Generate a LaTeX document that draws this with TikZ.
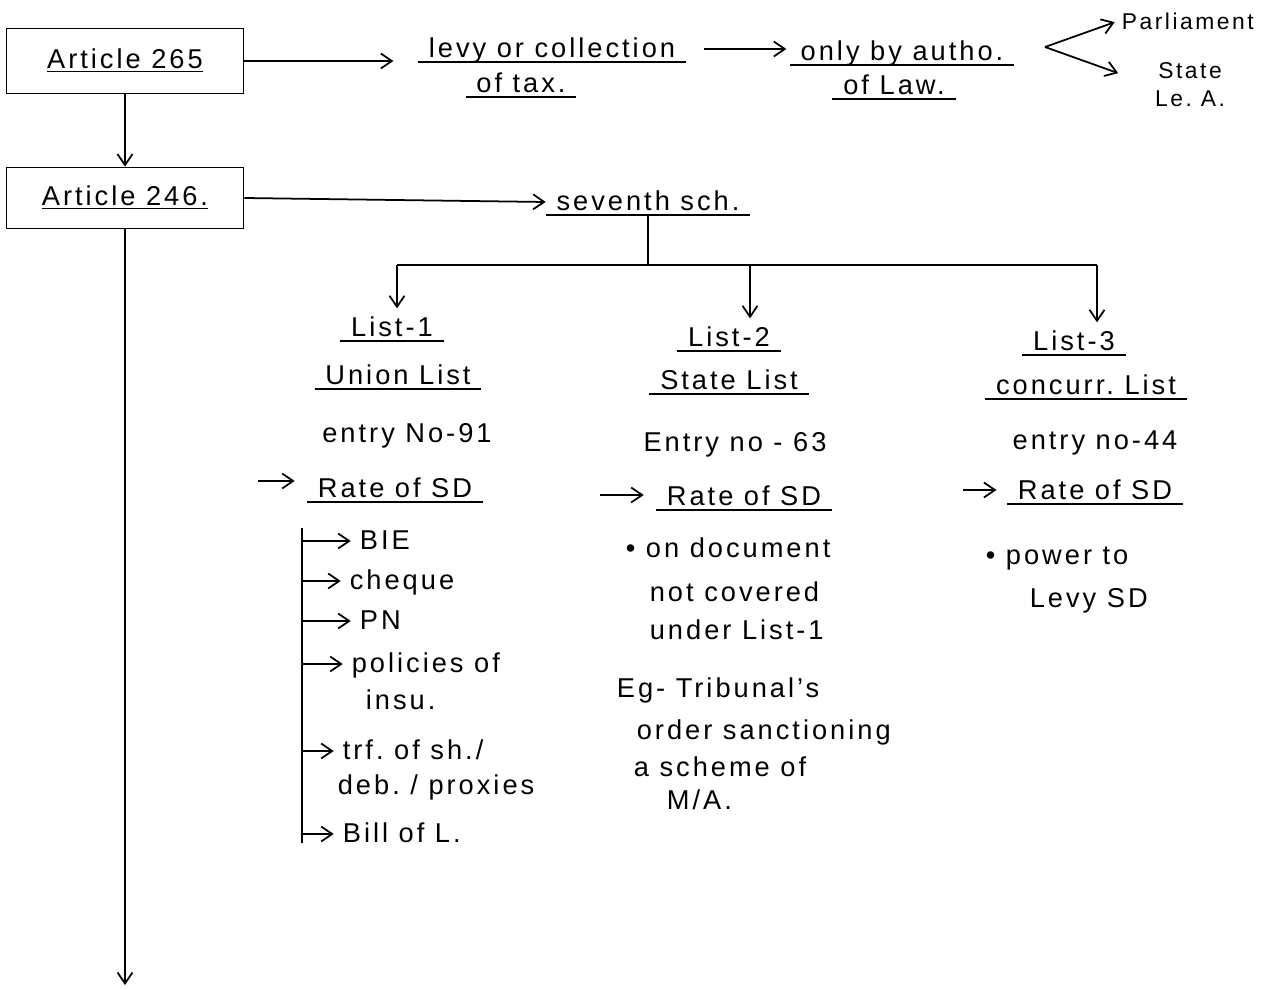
\documentclass[tikz,border=0pt]{standalone}
\usepackage{fontspec}
\setmainfont[LetterSpace=11]{Liberation Sans}
\usepackage{tikz}
\usetikzlibrary{
    positioning,
    arrows.meta
}
\newcommand{\handsize}{\fontsize{15.5}{18}\selectfont}
\newcommand{\smallhand}{\fontsize{13}{16}\selectfont}
\frenchspacing

\begin{document}
\begin{tikzpicture}[x=0.02cm, y=-0.02cm,
    box/.style={rectangle, draw, line width=1pt, minimum width=4.74cm, minimum height=1.3cm, font=\handsize},
    txt/.style={font=\handsize, inner sep=2pt, text height=11pt, text depth=1pt},
    ultxt/.style={txt, inner xsep=6pt, inner ysep=1pt, append after command={(\tikzlastnode.south west) edge[line width=1pt] (\tikzlastnode.south east)}},
    smalltxt/.style={font=\smallhand, inner sep=2pt, align=center},
    arr/.style={line width=1pt, -{Straight Barb[length=2.2mm, width=3mm]}},
    lin/.style={line width=1pt},
]
\useasboundingbox (0,0) rectangle (1282,990);

% top row
\node[box] (a265) at (125,61) {\underline{Article 265}};
\node[ultxt] (levy1) at (552,49) {levy or collection};
\node[ultxt] (levy2) at (521,84) {of tax.};
\node[ultxt] (autho1) at (902,52) {only by autho.};
\node[ultxt] (autho2) at (894,86) {of Law.};
\node[smalltxt, anchor=west] (parl) at (1118,21) {Parliament};
\node[smalltxt] (state) at (1190,85) {State\\Le. A.};
\coordinate (fork) at (1045,47);

\draw[arr, shorten >=14pt] (a265.east) -- (a265.east -| levy1.west);
\draw[arr, shorten <=10pt, shorten >=2pt] (levy1.east) -- (levy1.east -| autho1.west);
\draw[arr, shorten >=2pt] (fork) -- (parl.west);
\draw[arr, shorten >=20pt] (fork) -- (state.west);

% article 246
\node[box, minimum height=1.22cm] (a246) at (125,198) {\underline{Article 246.}};
\node[ultxt] (sev) at (648,202) {seventh sch.};
\draw[arr] (a265.south) -- (a246.north);
\draw[arr] (a246.east) -- (sev.west);
\coordinate (aend) at (125,985);
\draw[arr] (a246.south) -- (aend);

% list 1
\node[ultxt] (l1t) at (392,328) {List-1};
\node[ultxt] (l1n) at (398,376) {Union List};
\node[txt] (l1e) at (407,434) {entry No-91};
\node[ultxt] (l1r) at (395,489) {Rate of SD};
\coordinate (r1s) at (258,481);
\draw[arr, shorten >=7pt] (r1s) -- (r1s -| l1r.west);

\node[txt, anchor=west] (b1) at (356,541) {BIE};
\node[txt, anchor=west] (b2) at (346,581) {cheque};
\node[txt, anchor=west] (b3) at (356,621) {PN};
\node[txt, anchor=west] (b4) at (348,664) {policies of};
\node[txt, anchor=west] (b4b) at (362,701) {insu.};
\node[txt, anchor=west] (b5) at (339,751) {trf. of sh./};
\node[txt, anchor=west] (b5b) at (334,786) {deb. / proxies};
\node[txt, anchor=west] (b6) at (339,834) {Bill of L.};
\coordinate (brtop) at (302,528);
\coordinate (brbot) at (302,843);
\draw[lin] (brtop) -- (brbot);
\foreach \b in {b1,b2,b3,b4,b5,b6}{
  \draw[arr, shorten >=3pt] (brtop |- \b.west) -- (\b.west);
}

% list 2
\node[ultxt] (l2t) at (729,338) {List-2};
\node[ultxt] (l2n) at (729,381) {State List};
\node[txt] (l2e) at (735,443) {Entry no - 63};
\node[ultxt] (l2r) at (744,497) {Rate of SD};
\coordinate (r2s) at (600,495);
\draw[arr, shorten >=7pt] (r2s) -- (r2s -| l2r.west);
\node[txt, anchor=west] (l2p1) at (622,549) {\textbullet\ on document};
\node[txt, anchor=west] (l2p2) at (646,593) {not covered};
\node[txt, anchor=west] (l2p3) at (646,631) {under List-1};
\node[txt, anchor=west] (l2x1) at (613,689) {Eg- Tribunal's};
\node[txt, anchor=west] (l2x2) at (633,731) {order sanctioning};
\node[txt, anchor=west] (l2x3) at (630,768) {a scheme of};
\node[txt, anchor=west] (l2x4) at (663,801) {M/A.};

% list 3
\node[ultxt] (l3t) at (1074,342) {List-3};
\node[ultxt] (l3n) at (1086,386) {concurr. List};
\node[txt] (l3e) at (1095,441) {entry no-44};
\node[ultxt] (l3r) at (1095,491) {Rate of SD};
\coordinate (r3s) at (963,490);
\draw[arr, shorten >=6pt] (r3s) -- (r3s -| l3r.west);
\node[txt, anchor=west] (l3p1) at (982,556) {\textbullet\ power to};
\node[txt, anchor=west] (l3p2) at (1026,599) {Levy SD};

% tree from seventh sch.
\coordinate (t1) at (397,265);
\coordinate (t2) at (750,265);
\coordinate (t3) at (1097,265);
\draw[lin] (t1) -- (t3);
\draw[lin] (sev.south) -- (sev.south |- t1);
\draw[arr, shorten >=4pt] (t1) -- (t1 |- l1t.north);
\draw[arr, shorten >=4pt] (t2) -- (t2 |- l2t.north);
\draw[arr, shorten >=4pt] (t3) -- (t3 |- l3t.north);
\end{tikzpicture}
\end{document}
